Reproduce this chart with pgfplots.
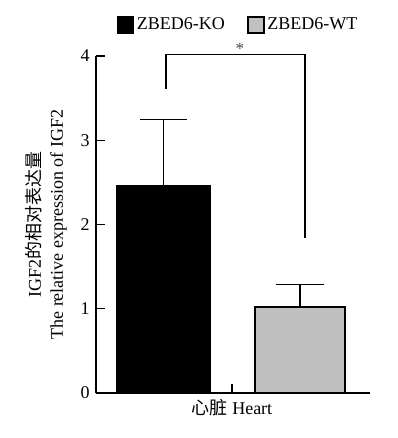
\documentclass[border=0pt]{standalone}
\usepackage{fontspec}
\setmainfont{Liberation Serif}
\newfontfamily\cjk{Noto Sans CJK SC}
\usepackage{pgfplots}
\pgfplotsset{compat=1.18}
\definecolor{wtgray}{HTML}{C0C0C0}
\begin{document}
\fontsize{13.5}{16.5}\selectfont
\begin{tikzpicture}[font=\fontsize{13.5}{16.5}\selectfont]
\begin{axis}[
  scale only axis, width=205.5pt, height=252.75pt,
  xmin=96, xmax=370, ymin=0, ymax=4,
  axis x line=bottom, axis y line=left,
  axis line style={-, line width=1pt},
  tick align=inside, major tick length=6.75pt,
  tick style={line width=1pt, black},
  ytick={0,1,2,3,4}, xtick={232}, xticklabels={{\cjk 心脏} Heart},
  clip=false,
  /pgf/number format/assume math mode=true,
  ylabel={IGF2{\cjk 的相对表达量}\\The relative expression of IGF2},
  ylabel style={align=center, at={(axis description cs:-0.182,0.5)}, anchor=center},
  legend style={at={(axis description cs:0.52,1.092)}, anchor=center, draw=none,
    legend columns=2, font=\fontsize{13.5}{16.5}\selectfont,
    /tikz/every even column/.append style={column sep=15pt}},
]
\addlegendimage{legend image code/.code={\draw[fill=black,draw=black,line width=1pt] (0pt,-6pt) rectangle (12pt,6pt);}}
\addlegendentry{ZBED6-KO}
\addlegendimage{legend image code/.code={\draw[fill=wtgray,draw=black,line width=1pt] (0pt,-6pt) rectangle (12pt,6pt);}}
\addlegendentry{ZBED6-WT}
\addplot[ybar, bar width=93, bar shift=0pt, fill=black, draw=black, line width=1pt,
  error bars/.cd, y dir=plus, y explicit, error mark=|,
  error bar style={line width=1pt, black},
  error mark options={mark size=17.5pt, line width=1pt, black}]
  coordinates {(163.5,2.46) +- (0,0.79)};
\addplot[ybar, bar width=90, bar shift=0pt, fill=wtgray, draw=black, line width=1pt,
  error bars/.cd, y dir=plus, y explicit, error mark=|,
  error bar style={line width=1pt, black},
  error mark options={mark size=18pt, line width=1pt, black}]
  coordinates {(300,1.02) +- (0,0.27)};
\addplot[black, line width=1pt, mark=none] coordinates {(166,3.61) (166,4.02) (305,4.02) (305,1.84)};
\node[font=\fontsize{13}{15}\selectfont, text=black!70] at (axis cs:240,4.08) {*};
\end{axis}
\pgfresetboundingbox
\path[use as bounding box] ([xshift=-72pt,yshift=-33.75pt]current axis.south west) rectangle ([xshift=20.25pt,yshift=42pt]current axis.north east);
\end{tikzpicture}
\end{document}
